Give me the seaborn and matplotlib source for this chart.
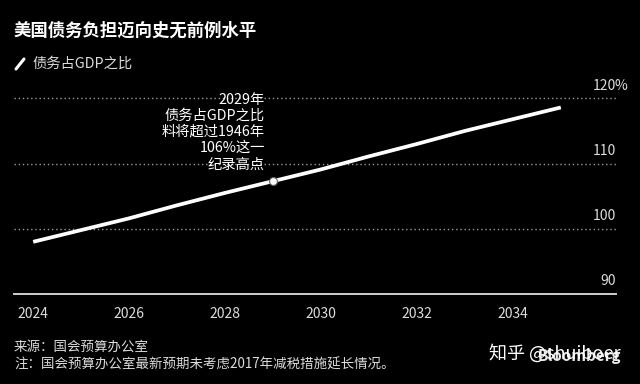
import matplotlib
matplotlib.use("Agg")
import matplotlib.pyplot as plt
import matplotlib.transforms as mtransforms
import seaborn as sns
import pandas as pd

years = [2024, 2025, 2026, 2027, 2028, 2029, 2030, 2031, 2032, 2033, 2034, 2035]
debt_ratio = [98.0, 99.8, 101.6, 103.6, 105.5, 107.3, 109.1, 111.1, 113.0, 115.0, 116.8, 118.6]
highlight_year = 2029
highlight_value = 107.3
x_ticks = [2024, 2026, 2028, 2030, 2032, 2034]
y_ticks = [90, 100, 110, 120]
y_tick_labels = ["90", "100", "110", "120"]

title = "美国债务负担迈向史无前例水平"
legend_label = "债务占GDP之比"
annotation = "2029年\n债务占GDP之比\n料将超过1946年\n106%这一\n纪录高点"
source = "来源：国会预算办公室"
note = "注：国会预算办公室最新预期未考虑2017年减税措施延长情况。"

sns.set_theme(style="dark")
plt.rcParams['font.family'] = ['Noto Sans CJK SC', 'DejaVu Sans']

bg = "#000000"
fg = "#ffffff"
grey = "#dcdcdc"

fig = plt.figure(figsize=(6.4, 3.84), dpi=100, facecolor=bg)
ax = fig.add_axes([14/640, 90/384, 602/640, 212/384])
ax.set_facecolor(bg)

df = pd.DataFrame({"year": years, "ratio": debt_ratio})
sns.lineplot(data=df, x="year", y="ratio", ax=ax, color=fg, linewidth=2.7,
             solid_capstyle="butt", zorder=3)
ax.scatter([highlight_year], [highlight_value], s=32, color=fg,
           edgecolor="#666666", linewidth=0.8, zorder=4)

ax.set_xlim(2023.6, 2036.15)
ax.set_ylim(90, 122.5)
for s in ["top", "right", "left"]:
    ax.spines[s].set_visible(False)
ax.spines["bottom"].set_color("#cfcfcf")
ax.spines["bottom"].set_linewidth(1.4)

# gridlines
for v in y_ticks[1:]:
    ax.axhline(v, color="#9a9a9a", linewidth=1.0, linestyle=(0, (1, 2)), zorder=1)

ax.set_xticks(x_ticks)
ax.set_xticklabels([str(t) for t in x_ticks])
ax.tick_params(axis="x", colors="#cfcfcf", length=5, width=1, direction="out",
               labelsize=10, labelcolor=grey, pad=4)
ax.set_yticks([])
ax.set_xlabel("")
ax.set_ylabel("")
ax.grid(False)

# right-side y labels above gridlines
trans = mtransforms.blended_transform_factory(ax.transAxes, ax.transData)
for v, lab in zip(y_ticks, y_tick_labels):
    ax.annotate(lab, xy=(1.0, v), xycoords=trans, xytext=(0, 4),
                textcoords="offset points", ha="right", va="bottom",
                fontsize=10, color=grey, annotation_clip=False)
ax.annotate("%", xy=(1.0, y_ticks[-1]), xycoords=trans, xytext=(-1, 4),
            textcoords="offset points", ha="left", va="bottom",
            fontsize=10, color=grey, annotation_clip=False)

# annotation text
ax.annotate(annotation, xy=(highlight_year, highlight_value), xycoords="data",
            xytext=(-6, 7), textcoords="offset points", ha="right", va="bottom",
            fontsize=10.3, color=fg, linespacing=1.2, zorder=5)

# title and legend
fig.text(14/640, 1 - 31/384, title, fontsize=12.5, fontweight="bold", color=fg,
         va="center", ha="left")
fig.lines.append(plt.Line2D([16/640, 24/640], [1 - 69/384, 1 - 59/384],
                            transform=fig.transFigure, color=fg, linewidth=2.2))
fig.text(33/640, 1 - 64/384, legend_label, fontsize=10.3, color=grey,
         va="center", ha="left")

# footer
fig.text(14/640, 1 - 347/384, source, fontsize=9.7, color=grey, va="center", ha="left")
fig.text(14/640, 1 - 365/384, note, fontsize=9.7, color=grey, va="center", ha="left")
fig.text(621/640, 1 - 356/384, "Bloomberg", fontsize=11, fontweight="bold",
         color="#e8e8e8", va="center", ha="right")
fig.text(621/640, 1 - 353/384, "知乎 @shuiboer", fontsize=13, color=fg,
         va="center", ha="right")

fig.savefig("out.png", dpi=100, facecolor=bg)
